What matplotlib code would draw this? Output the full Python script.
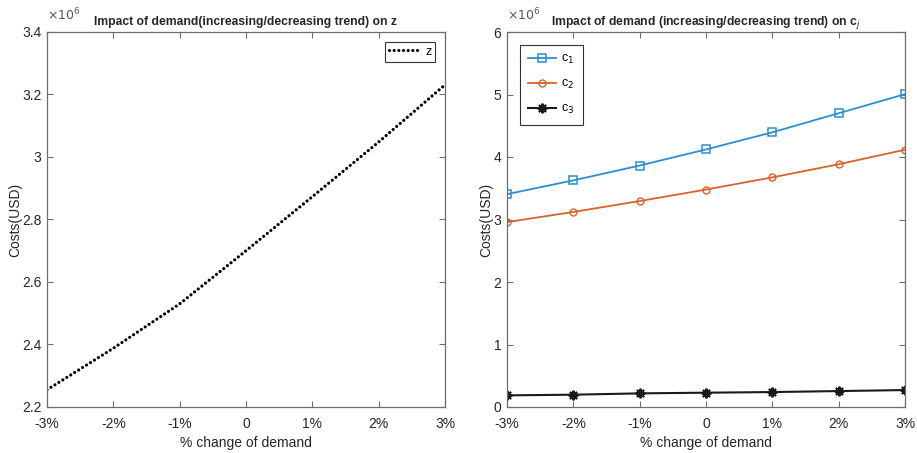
import matplotlib
matplotlib.use("Agg")
import matplotlib.pyplot as plt
from matplotlib.ticker import FixedLocator, FuncFormatter

plt.rcParams['font.family'] = ['Liberation Sans', 'DejaVu Sans']

# ---- data ----
demand_change = [-3, -2, -1, 0, 1, 2, 3]
x_tick_labels = ['-3%', '-2%', '-1%', '0', '1%', '2%', '3%']

# values in millions of USD (axis shows x10^6)
z_cost = [2.255, 2.388, 2.530, 2.700, 2.873, 3.048, 3.231]
c1_cost = [3.405, 3.626, 3.863, 4.121, 4.395, 4.700, 5.005]
c2_cost = [2.958, 3.121, 3.295, 3.479, 3.674, 3.884, 4.116]
c3_cost = [0.186, 0.197, 0.218, 0.229, 0.239, 0.255, 0.271]

left_yticks = [2.2, 2.4, 2.6, 2.8, 3.0, 3.2, 3.4]
right_yticks = [0, 1, 2, 3, 4, 5, 6]

W, H = 917, 453
fig = plt.figure(figsize=(W / 100, H / 100), dpi=100)

frame_col = '#6e6e6e'
text_col = '#262626'

def style_axes(ax):
    for s in ax.spines.values():
        s.set_color(frame_col)
        s.set_linewidth(0.9)
    ax.tick_params(direction='in', top=True, right=True, length=4,
                   color=frame_col, labelsize=10, labelcolor=text_col, pad=4)
    ax.tick_params(axis='x', pad=7)
    ax.set_xlim(-3, 3)
    ax.xaxis.set_major_locator(FixedLocator(demand_change))
    ax.set_xticklabels(x_tick_labels)
    ax.set_xlabel('% change of demand', fontsize=10, color=text_col, labelpad=4)
    ax.set_ylabel('Costs(USD)', fontsize=10, color=text_col, labelpad=0)
    ax.yaxis.set_major_formatter(FuncFormatter(lambda v, p: '%g' % round(v, 6)))
    ax.text(0.0, 1.022, r'$\times10^{6}$', transform=ax.transAxes, fontsize=9,
            color='#555555', ha='left', va='bottom')

# left axes
ax1 = fig.add_axes([47 / W, 1 - 407 / H, 398 / W, 375 / H])
ax1.plot(demand_change, z_cost, color='black', linewidth=2.3,
         linestyle=(0, (0.01, 1.45)), dash_capstyle='round', label='z')
ax1.set_ylim(2.2, 3.4)
ax1.yaxis.set_major_locator(FixedLocator(left_yticks))
style_axes(ax1)
ax1.set_title('Impact of demand(increasing/decreasing trend) on z',
              fontsize=8.7, fontweight='bold', color=text_col, pad=5)
leg1 = ax1.legend(loc='upper right', fontsize=9, fancybox=False, framealpha=1,
                  edgecolor='#333333', handlelength=2.6, handletextpad=0.3,
                  borderpad=0.3, borderaxespad=0.8)
leg1.get_frame().set_linewidth(0.8)

# right axes
ax2 = fig.add_axes([507 / W, 1 - 407 / H, 398 / W, 375 / H])
ax2.plot(demand_change, c1_cost, color='#2a8fcf', linewidth=1.3, marker='s',
         markersize=5.5, markerfacecolor='none', markeredgewidth=1.1, label='c$_1$')
ax2.plot(demand_change, c2_cost, color='#d9622b', linewidth=1.3, marker='o',
         markersize=5, markerfacecolor='none', markeredgewidth=1.0, label='c$_2$')
ax2.plot(demand_change, c3_cost, color='#1a1a1a', linewidth=1.5, marker=(8, 2, 0),
         markersize=7, markeredgewidth=1.4, label='c$_3$')
ax2.set_ylim(0, 6)
ax2.yaxis.set_major_locator(FixedLocator(right_yticks))
style_axes(ax2)
ax2.set_title('Impact of demand (increasing/decreasing trend) on c$_j$',
              fontsize=8.7, fontweight='bold', color=text_col, pad=5)
leg2 = ax2.legend(loc='upper left', fontsize=9, fancybox=False, framealpha=1,
                  edgecolor='#333333', handlelength=2.2, handletextpad=0.4,
                  borderpad=0.7, borderaxespad=1.0, labelspacing=0.95)
leg2.get_frame().set_linewidth(0.8)

fig.savefig('out.png', dpi=100)
